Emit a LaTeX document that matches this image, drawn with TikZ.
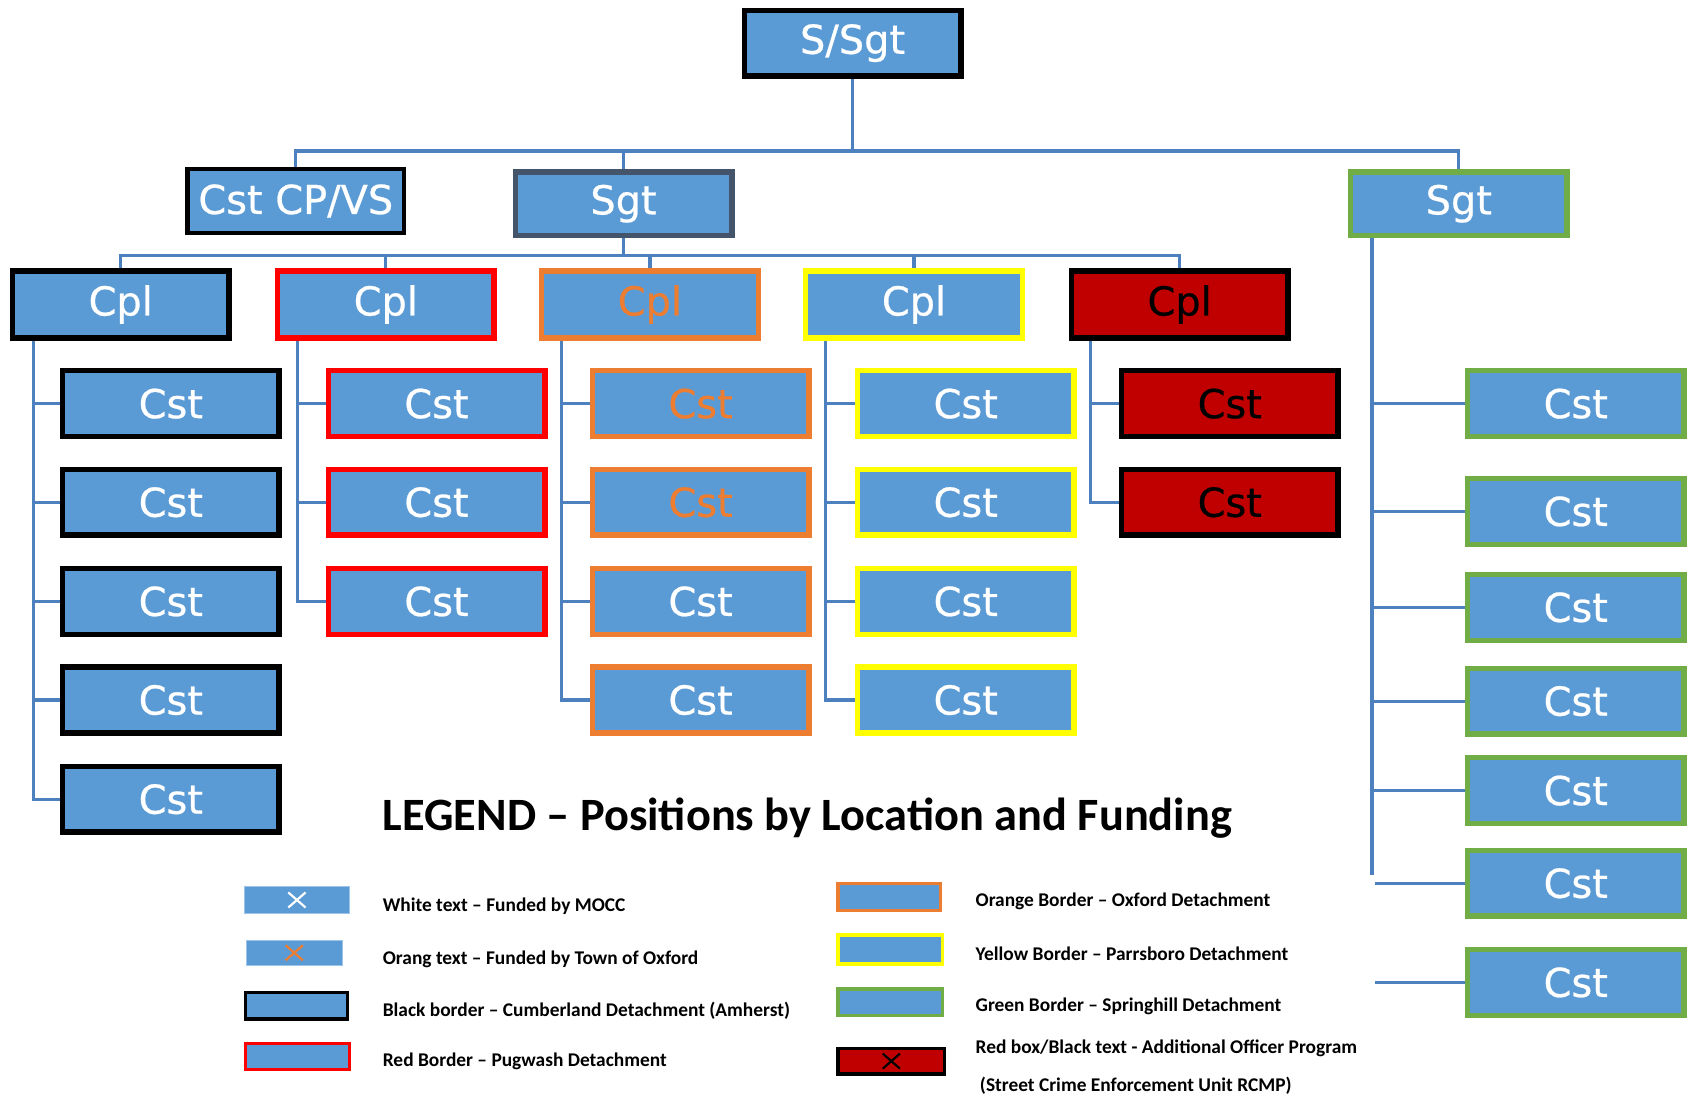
\documentclass[tikz,border=0pt]{standalone}
\usepackage{fontspec}
\setmainfont{Carlito}
\newfontfamily\boxfont[FakeBold=0.6]{DejaVu Sans}
\usetikzlibrary{backgrounds,calc}
\definecolor{boxblue}{HTML}{5B9BD5}
\definecolor{lineblue}{HTML}{4D80BE}
\definecolor{slate}{HTML}{44546A}
\definecolor{orangeb}{HTML}{ED7D31}
\definecolor{yellowb}{HTML}{FFFF00}
\definecolor{greenb}{HTML}{70AD47}
\definecolor{redb}{HTML}{FF0000}
\definecolor{darkredb}{HTML}{C00000}
\definecolor{lightedge}{HTML}{9DC3E6}
\tikzset{
  box/.style={draw, line width=5pt, fill=boxblue, minimum width=201pt, minimum height=61pt,
    inner sep=0pt, text=white, font=\boxfont\fontsize{37}{40}\selectfont},
  blackbox/.style={box, draw=black},
  redbox/.style={box, draw=redb},
  orangebox/.style={box, draw=orangeb},
  yellowbox/.style={box, draw=yellowb},
  greenbox/.style={box, draw=greenb},
  aopbox/.style={box, draw=black, fill=darkredb, text=black},
  conn/.style={draw=lineblue, line width=3pt},
  swatch/.style={draw, line width=3pt, fill=boxblue, inner sep=0pt},
  legtext/.style={anchor=west, inner sep=0pt, font=\bfseries\fontsize{18}{20}\selectfont},
  crossline/.style={line width=2pt}
}
\begin{document}
\begin{tikzpicture}[x=1pt,y=-1pt]
\useasboundingbox (0,0) rectangle (1568,1017);

% top levels
\node[blackbox, minimum width=201pt, minimum height=61pt] (ssgt) at (791,40) {S/Sgt};
\node[blackbox, line width=4pt, minimum width=201pt, minimum height=59pt] (cstcp) at (274.5,186.5) {Cst CP/VS};
\node[box, draw=slate, minimum height=59pt] (sgtM) at (578.5,189) {Sgt};
\node[greenbox, minimum height=59pt] (sgtG) at (1353.5,189) {Sgt};

% Cpl row
\node[blackbox, minimum height=62pt] (cplA) at (112,282.5) {Cpl};
\node[redbox, minimum height=62pt] (cplB) at (358,282.5) {Cpl};
\node[orangebox, minimum height=62pt, text=orangeb] (cplC) at (603,282.5) {Cpl};
\node[yellowbox, minimum height=62pt] (cplD) at (848,282.5) {Cpl};
\node[aopbox, minimum height=62pt] (cplE) at (1094.5,282.5) {Cpl};

% column A (black)
\node[blackbox] (cA1) at (158.5,374.5) {Cst};
\node[blackbox] (cA2) at (158.5,466) {Cst};
\node[blackbox] (cA3) at (158.5,558) {Cst};
\node[blackbox] (cA4) at (158.5,649.5) {Cst};
\node[blackbox] (cA5) at (158.5,741.5) {Cst};
% column B (red)
\node[redbox] (cB1) at (405,374.5) {Cst};
\node[redbox] (cB2) at (405,466) {Cst};
\node[redbox] (cB3) at (405,558) {Cst};
% column C (orange)
\node[orangebox, text=orangeb] (cC1) at (650,374.5) {Cst};
\node[orangebox, text=orangeb] (cC2) at (650,466) {Cst};
\node[orangebox] (cC3) at (650,558) {Cst};
\node[orangebox] (cC4) at (650,649.5) {Cst};
% column D (yellow)
\node[yellowbox] (cD1) at (896,374.5) {Cst};
\node[yellowbox] (cD2) at (896,466) {Cst};
\node[yellowbox] (cD3) at (896,558) {Cst};
\node[yellowbox] (cD4) at (896,649.5) {Cst};
% column E (additional officer)
\node[aopbox] (cE1) at (1141,374.5) {Cst};
\node[aopbox] (cE2) at (1141,466) {Cst};
% green column
\node[greenbox] (cG1) at (1462,374.5) {Cst};
\node[greenbox] (cG2) at (1462,474.5) {Cst};
\node[greenbox] (cG3) at (1462,563.5) {Cst};
\node[greenbox] (cG4) at (1462,650.5) {Cst};
\node[greenbox] (cG5) at (1462,733.5) {Cst};
\node[greenbox] (cG6) at (1462,819.5) {Cst};
\node[greenbox] (cG7) at (1462,911.5) {Cst};

% connectors
\coordinate (bus1) at (791,140);
\coordinate (bus2) at (578.5,237);
\coordinate (vA) at (31,0);
\coordinate (vB) at (276,0);
\coordinate (vC) at (521,0);
\coordinate (vD) at (766,0);
\coordinate (vE) at (1012,0);
\coordinate (gEnd) at (1273,812);
\coordinate (gEnd2) at (1276,0);
\begin{scope}[on background layer]
  \draw[conn] (ssgt.south) -- (ssgt.south |- bus1);
  \draw[conn] (cstcp.north) -- (cstcp.north |- bus1) -| (sgtG.north);
  \draw[conn] (sgtM.north) -- (sgtM.north |- bus1);
  \draw[conn] (sgtM.south) -- (sgtM.south |- bus2);
  \draw[conn] (cplA.north) -- (cplA.north |- bus2) -| (cplE.north);
  \foreach \n in {cplB,cplC,cplD} \draw[conn] (\n.north) -- (\n.north |- bus2);
  % column A
  \draw[conn] (cplA.south -| vA) |- (cA5.west);
  \foreach \r in {1,2,3,4} \draw[conn] (cA\r.west -| vA) -- (cA\r.west);
  % column B
  \draw[conn] (cplB.south -| vB) |- (cB3.west);
  \foreach \r in {1,2} \draw[conn] (cB\r.west -| vB) -- (cB\r.west);
  % column C
  \draw[conn] (cplC.south -| vC) |- (cC4.west);
  \foreach \r in {1,2,3} \draw[conn] (cC\r.west -| vC) -- (cC\r.west);
  % column D
  \draw[conn] (cplD.south -| vD) |- (cD4.west);
  \foreach \r in {1,2,3} \draw[conn] (cD\r.west -| vD) -- (cD\r.west);
  % column E
  \draw[conn] (cplE.south -| vE) |- (cE2.west);
  \draw[conn] (cE1.west -| vE) -- (cE1.west);
  % green column
  \draw[conn] (sgtG.south -| gEnd) -- (gEnd);
  \foreach \r in {1,2,3,4,5} \draw[conn] (cG\r.west -| gEnd) -- (cG\r.west);
  \foreach \r in {6,7} \draw[conn] (cG\r.west -| gEnd2) -- (cG\r.west);
\end{scope}

% legend
\node[font=\bfseries\fontsize{43}{46}\selectfont, inner sep=0pt] (title) at (749,759) {LEGEND -- Positions by Location and Funding};

\node[swatch, draw=lightedge, line width=1pt, minimum width=98pt, minimum height=25pt] (lg1) at (275.5,835) {};
\node[swatch, draw=lightedge, line width=1pt, minimum width=89pt, minimum height=23pt] (lg2) at (273,884) {};
\node[swatch, draw=black, minimum width=95pt, minimum height=25pt] (lg3) at (275,933) {};
\node[swatch, draw=redb, minimum width=97pt, minimum height=24pt] (lg4) at (276,980.5) {};
\node[swatch, draw=orangeb, minimum width=95pt, minimum height=25pt] (lg5) at (825,832) {};
\node[swatch, draw=yellowb, minimum width=97pt, minimum height=27pt] (lg6) at (826,881) {};
\node[swatch, draw=greenb, minimum width=97pt, minimum height=25pt] (lg7) at (826,930) {};
\node[swatch, draw=black, fill=darkredb, minimum width=99pt, minimum height=24pt] (lg8) at (827,984.5) {};

\begin{scope}[shift={(lg1.center)}]
  \draw[crossline, white] (-8,-7) -- (8,7) (-8,7) -- (8,-7);
\end{scope}
\begin{scope}[shift={(lg2.center)}]
  \draw[crossline, orangeb] (-8,-7) -- (8,7) (-8,7) -- (8,-7);
\end{scope}
\begin{scope}[shift={(lg8.center)}]
  \draw[crossline, black] (-8,-7) -- (8,7) (-8,7) -- (8,-7);
\end{scope}

\node[legtext] (lt1) at (355,841) {White text -- Funded by MOCC};
\node[legtext] (lt2) at (355,890) {Orang text -- Funded by Town of Oxford};
\node[legtext] (lt3) at (355,938) {Black border -- Cumberland Detachment (Amherst)};
\node[legtext] (lt4) at (355,985) {Red Border -- Pugwash Detachment};
\node[legtext] (lt5) at (905,836) {Orange Border -- Oxford Detachment};
\node[legtext] (lt6) at (905,885) {Yellow Border -- Parrsboro Detachment};
\node[legtext] (lt7) at (905,934) {Green Border -- Springhill Detachment};
\node[legtext] (lt8) at (905,973) {Red box/Black text - Additional Officer Program};
\node[legtext] (lt9) at (909,1007) {(Street Crime Enforcement Unit RCMP)};
\end{tikzpicture}
\end{document}
